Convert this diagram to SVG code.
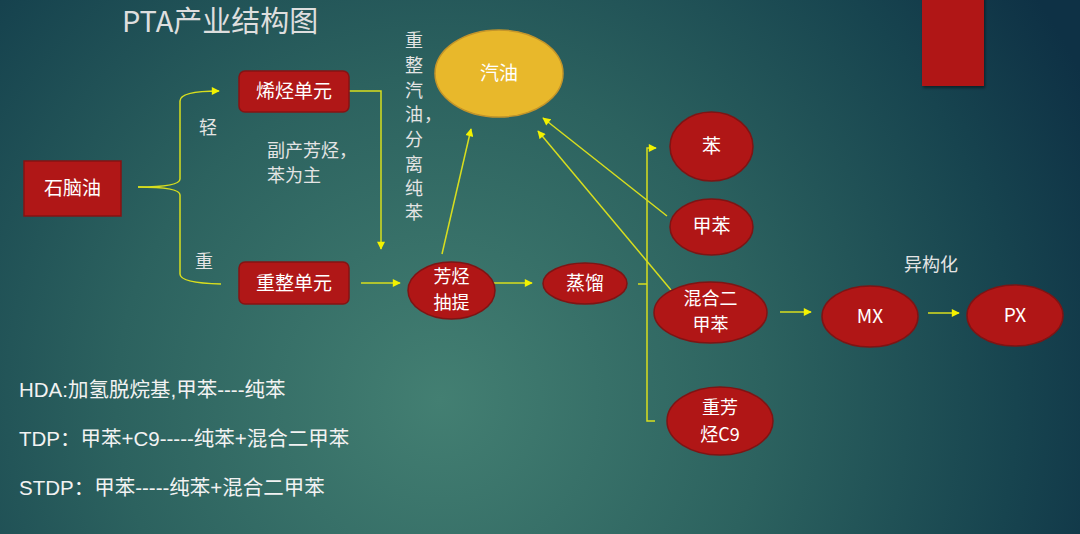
<svg xmlns="http://www.w3.org/2000/svg" width="1080" height="534" viewBox="0 0 1080 534">
  <defs>
    <radialGradient id="bg" gradientUnits="userSpaceOnUse" cx="440" cy="400" r="720">
      <stop offset="0" stop-color="#437f72"/>
      <stop offset="0.45" stop-color="#2c625f"/>
      <stop offset="0.8" stop-color="#17444f"/>
      <stop offset="1" stop-color="#0e3145"/>
    </radialGradient>
    <marker id="ah" viewBox="0 0 10 10" refX="9" refY="5" markerUnits="userSpaceOnUse" markerWidth="9" markerHeight="8" orient="auto">
      <path d="M0,0 L10,5 L0,10 Z" fill="#f2f200"/>
    </marker>
    <filter id="shadow" x="-20%" y="-20%" width="140%" height="140%">
      <feDropShadow dx="1" dy="2" stdDeviation="1.5" flood-color="#000" flood-opacity="0.45"/>
    </filter>
  </defs>
  <style>
    .box { fill: #b01717; stroke: #861313; stroke-width: 1.5; }
    .oval { fill: #b01616; stroke: #7e1414; stroke-width: 1.5; }
    .gold { fill: #e8b82b; stroke: #c4952a; stroke-width: 1.5; }
    .lbl { font-family: "Noto Sans CJK SC", "Liberation Sans", sans-serif; font-size: 19px; fill: #ffffff; text-anchor: middle; }
    .lbl2 { font-size: 18px; }
    .note { font-family: "Noto Sans CJK SC", "Liberation Sans", sans-serif; font-size: 18px; fill: #e4e4e4; }
    .foot { font-family: "Liberation Sans", "Noto Sans CJK SC", sans-serif; font-size: 20.5px; fill: #f2f2f2; }
    .wire { fill: none; stroke: #d8de1e; stroke-width: 1.5; }
  </style>

  <rect width="1080" height="534" fill="url(#bg)"/>

  <!-- corner tab -->
  <rect x="922" y="-4" width="62" height="90" fill="#b01717" filter="url(#shadow)"/>

  <!-- title -->
  <text x="122" y="32" font-family="Noto Sans CJK SC, DejaVu Sans, sans-serif" font-size="29" fill="#dedede">PTA产业结构图</text>

  <!-- connectors -->
  <g id="connectors">
    <path class="wire" d="M138,187 Q180,187 180,179 L180,101 Q180,91 219,91" marker-end="url(#ah)"/>
    <path class="wire" d="M138,187 Q180,187 180,195 L180,274 Q180,283 221,284"/>
    <path class="wire" d="M349,91 L381,91 L381,249" marker-end="url(#ah)"/>
    <path class="wire" d="M361,283 L400,283" marker-end="url(#ah)"/>
    <path class="wire" d="M442,254 L471,129" marker-end="url(#ah)"/>
    <path class="wire" d="M490,283 L532,283" marker-end="url(#ah)"/>
    <path class="wire" d="M638,284 L647,284"/>
    <path class="wire" d="M655,421 L647,421 L647,148 L656,148" marker-end="url(#ah)"/>
    <path class="wire" d="M667,216 L543,118" marker-end="url(#ah)"/>
    <path class="wire" d="M671,290 L538,131" marker-end="url(#ah)"/>
    <path class="wire" d="M780,312 L811,312" marker-end="url(#ah)"/>
    <path class="wire" d="M928,313 L959,313" marker-end="url(#ah)"/>
  </g>

  <!-- annotations -->
  <text class="note" x="199" y="134">轻</text>
  <text class="note" x="195" y="268">重</text>
  <text class="note" x="267" y="157">副产芳烃，</text>
  <text class="note" x="267" y="182">苯为主</text>
  <g class="note" text-anchor="middle">
    <text x="414" y="47">重</text>
    <text x="414" y="72">整</text>
    <text x="414" y="97">汽</text>
    <text x="414" y="121">油</text>
    <text x="414" y="146">分</text>
    <text x="414" y="171">离</text>
    <text x="414" y="195">纯</text>
    <text x="414" y="219">苯</text>
  </g>
  <text class="note" x="424" y="121">，</text>
  <text class="note" x="904" y="271" font-size="19">异构化</text>

  <!-- nodes -->
  <g id="naphtha">
    <rect class="box" x="24" y="161" width="97" height="55"/>
    <text class="lbl" x="72.5" y="195">石脑油</text>
  </g>
  <g id="olefin-unit">
    <rect class="box" x="239" y="71" width="110" height="41" rx="6"/>
    <text class="lbl" x="294" y="98">烯烃单元</text>
  </g>
  <g id="reforming-unit">
    <rect class="box" x="239" y="262" width="110" height="42" rx="6"/>
    <text class="lbl" x="294" y="290">重整单元</text>
  </g>
  <g id="gasoline">
    <ellipse class="gold" cx="499" cy="73.5" rx="64" ry="43.5"/>
    <text class="lbl" x="499" y="80">汽油</text>
  </g>
  <g id="extraction">
    <ellipse class="oval" cx="451.5" cy="290.5" rx="43.5" ry="28.5"/>
    <text class="lbl lbl2" x="451.5" y="283">芳烃</text>
    <text class="lbl lbl2" x="451.5" y="309">抽提</text>
  </g>
  <g id="distillation">
    <ellipse class="oval" cx="585" cy="283.5" rx="42" ry="20.5"/>
    <text class="lbl" x="585" y="290">蒸馏</text>
  </g>
  <g id="benzene">
    <ellipse class="oval" cx="711.5" cy="146.5" rx="41.5" ry="34.5"/>
    <text class="lbl" x="711.5" y="153">苯</text>
  </g>
  <g id="toluene">
    <ellipse class="oval" cx="711.5" cy="227" rx="41.5" ry="28"/>
    <text class="lbl" x="711.5" y="233">甲苯</text>
  </g>
  <g id="mixed-xylene">
    <ellipse class="oval" cx="710.5" cy="312.5" rx="56.5" ry="30.5"/>
    <text class="lbl lbl2" x="710.5" y="305">混合二</text>
    <text class="lbl lbl2" x="710.5" y="331">甲苯</text>
  </g>
  <g id="c9-aromatics">
    <ellipse class="oval" cx="720" cy="421" rx="53" ry="34"/>
    <text class="lbl lbl2" x="720" y="414">重芳</text>
    <text class="lbl lbl2" x="720" y="441">烃C9</text>
  </g>
  <g id="mx">
    <ellipse class="oval" cx="870" cy="316.5" rx="48" ry="30.5"/>
    <text class="lbl" x="870" y="323">MX</text>
  </g>
  <g id="px">
    <ellipse class="oval" cx="1015" cy="315.5" rx="48" ry="30.5"/>
    <text class="lbl" x="1015" y="322">PX</text>
  </g>

  <!-- process notes -->
  <text class="foot" x="19" y="397">HDA:加氢脱烷基,甲苯----纯苯</text>
  <text class="foot" x="19" y="446">TDP：甲苯+C9-----纯苯+混合二甲苯</text>
  <text class="foot" x="19" y="495">STDP：甲苯-----纯苯+混合二甲苯</text>
</svg>
